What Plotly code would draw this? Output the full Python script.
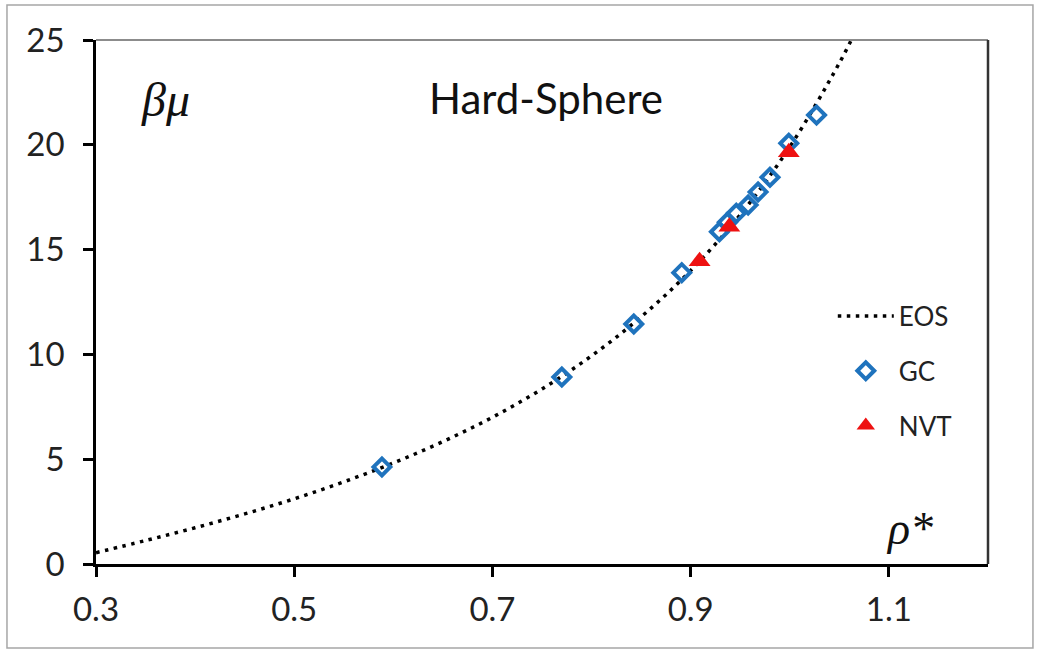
import plotly.graph_objects as go

# EOS curve
eos_rho = [0.30, 0.35, 0.40, 0.45, 0.50, 0.55, 0.60, 0.65, 0.70, 0.75,
           0.80, 0.85, 0.90, 0.95, 1.00, 1.05, 1.07]
eos_bmu = [0.54, 1.12, 1.73, 2.39, 3.11, 3.92, 4.82, 5.84, 7.00, 8.35,
           9.93, 11.79, 14.00, 16.66, 19.90, 23.90, 25.76]

# GC simulation points
gc_rho = [0.5885, 0.770, 0.8426, 0.891, 0.929, 0.937, 0.946, 0.958, 0.968, 0.980, 0.999, 1.027]
gc_bmu = [4.63, 8.92, 11.45, 13.90, 15.85, 16.30, 16.73, 17.13, 17.75, 18.45, 20.07, 21.42]

# NVT simulation points
nvt_rho = [0.909, 0.939, 0.999]
nvt_bmu = [14.45, 16.09, 19.65]

x_ticks = [0.3, 0.5, 0.7, 0.9, 1.1]
y_ticks = [0, 5, 10, 15, 20, 25]

FONT = "Lato"

fig = go.Figure()
fig.add_trace(go.Scatter(
    x=eos_rho, y=eos_bmu, mode="lines", name="EOS", legendgroup="a",
    line=dict(color="black", width=3.5, dash="3.5px,5.5px", shape="spline"),
))
fig.add_trace(go.Scatter(
    x=gc_rho, y=gc_bmu, mode="markers", name="GC", legendgroup="b",
    marker=dict(symbol="diamond-open", size=13, color="#1f73bd",
                line=dict(width=4, color="#1f73bd")),
))
fig.add_trace(go.Scatter(
    x=nvt_rho, y=nvt_bmu, mode="markers", name="NVT", legendgroup="c",
    marker=dict(symbol="triangle-up", size=19, color="#ee1111"),
))

fig.update_layout(
    width=1038, height=652,
    margin=dict(l=96, r=50, t=40, b=88),
    paper_bgcolor="white", plot_bgcolor="white",
    font=dict(family=FONT, color="black"),
    showlegend=True,
    legend=dict(x=0.826, y=0.518, xanchor="left", yanchor="top",
                bgcolor="rgba(0,0,0,0)", font=dict(size=26, family=FONT, color="#222"),
                tracegroupgap=18, itemwidth=56),
    xaxis=dict(range=[0.3, 1.2], tickvals=x_ticks, ticktext=[str(v) for v in x_ticks],
               showgrid=False, zeroline=False, showline=True, linecolor="black", linewidth=2.5,
               ticks="outside", ticklen=10, tickwidth=2.5, tickcolor="black",
               tickfont=dict(size=33, family=FONT, color="#222"), ticklabelstandoff=5),
    yaxis=dict(range=[0, 25], tickvals=y_ticks, showgrid=False, zeroline=False,
               showline=True, linecolor="black", linewidth=2.5,
               ticks="outside", ticklen=10, tickwidth=2.5, tickcolor="black",
               tickfont=dict(size=33, family=FONT, color="#222"), ticklabelstandoff=12),
    shapes=[
        # top and right plot borders
        dict(type="line", xref="paper", yref="paper", x0=0, x1=1, y0=1, y1=1,
             line=dict(color="#666", width=1.5)),
        dict(type="line", xref="paper", yref="paper", x0=1, x1=1, y0=0, y1=1,
             line=dict(color="#333", width=2.5)),
        # outer frame
        dict(type="rect", xref="paper", yref="paper", x0=-0.0998, x1=1.0504,
             y0=-0.1603, y1=1.0668, line=dict(color="#a6a6a6", width=1.5)),
    ],
    annotations=[
        dict(text="<i>βμ</i>", x=(165 - 96) / 892, y=(564 - 100) / 524, xref="paper", yref="paper",
             showarrow=False, font=dict(family="Liberation Serif", size=48, color="#111"),
             xanchor="center", yanchor="middle"),
        dict(text="Hard-Sphere", showarrow=False, xref="paper", yref="paper",
             x=(546 - 96) / 892, y=(564 - 98) / 524, xanchor="center", yanchor="middle",
             font=dict(family=FONT, size=42, color="#111")),
        dict(text="<i>ρ*</i>", showarrow=False, xref="paper", yref="paper",
             x=(909 - 96) / 892, y=(564 - 528) / 524, xanchor="center", yanchor="middle",
             font=dict(family="Liberation Serif", size=46, color="#111")),
    ],
)

fig.write_html("out.html", config={"displayModeBar": False},
               post_script="document.body.style.margin='0';")
